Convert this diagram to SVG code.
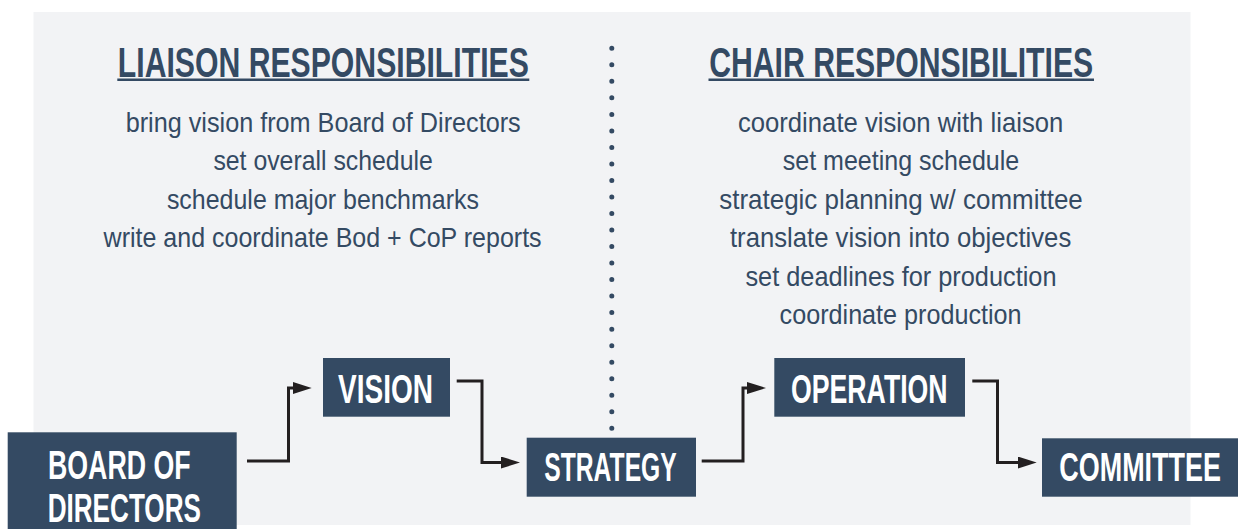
<svg xmlns="http://www.w3.org/2000/svg" width="1242" height="529" viewBox="0 0 1242 529">
  <style>
    .head { font-family: "Liberation Sans", Arial, sans-serif; font-weight: bold; font-size: 43px; fill: #344a63; }
    .body { font-family: "Liberation Sans", Arial, sans-serif; font-size: 28.5px; fill: #344a63; }
    .node rect { fill: #344a63; }
    .node text { font-family: "Liberation Sans", Arial, sans-serif; font-weight: bold; font-size: 40px; fill: #ffffff; }
    .conn { fill: none; stroke: #231f20; stroke-width: 3; stroke-linejoin: miter; }
    .uline { stroke: #344a63; stroke-width: 2.5; }
  </style>
  <defs>
    <marker id="arrow" markerUnits="userSpaceOnUse" markerWidth="19" markerHeight="12" refX="2" refY="6" orient="auto">
      <path d="M0,0 L19,6 L0,12 z" fill="#231f20"/>
    </marker>
  </defs>

  <rect x="0" y="0" width="1242" height="529" fill="#ffffff"/>
  <rect id="panel" x="33.5" y="12" width="1157" height="513" fill="#f2f3f5"/>

  <g id="liaison">
    <text class="head" x="323.3" y="76.7" text-anchor="middle" textLength="411" lengthAdjust="spacingAndGlyphs">LIAISON RESPONSIBILITIES</text>
    <line class="uline" x1="117.3" y1="79.8" x2="529.3" y2="79.8"/>
    <text class="body" x="323.2" y="131.7" text-anchor="middle" textLength="395" lengthAdjust="spacingAndGlyphs">bring vision from Board of Directors</text>
    <text class="body" x="323.1" y="170.2" text-anchor="middle" textLength="219.4" lengthAdjust="spacingAndGlyphs">set overall schedule</text>
    <text class="body" x="322.9" y="208.7" text-anchor="middle" textLength="312" lengthAdjust="spacingAndGlyphs">schedule major benchmarks</text>
    <text class="body" x="322.6" y="247.2" text-anchor="middle" textLength="438" lengthAdjust="spacingAndGlyphs">write and coordinate Bod + CoP reports</text>
  </g>

  <g id="chair">
    <text class="head" x="901.2" y="76.7" text-anchor="middle" textLength="384" lengthAdjust="spacingAndGlyphs">CHAIR RESPONSIBILITIES</text>
    <line class="uline" x1="708.5" y1="79.8" x2="1094" y2="79.8"/>
    <text class="body" x="900.6" y="131.7" text-anchor="middle" textLength="325.4" lengthAdjust="spacingAndGlyphs">coordinate vision with liaison</text>
    <text class="body" x="901" y="170.2" text-anchor="middle" textLength="236.5" lengthAdjust="spacingAndGlyphs">set meeting schedule</text>
    <text class="body" x="901" y="208.7" text-anchor="middle" textLength="363.5" lengthAdjust="spacingAndGlyphs">strategic planning w/ committee</text>
    <text class="body" x="900.6" y="247.2" text-anchor="middle" textLength="341.3" lengthAdjust="spacingAndGlyphs">translate vision into objectives</text>
    <text class="body" x="901" y="285.7" text-anchor="middle" textLength="311.1" lengthAdjust="spacingAndGlyphs">set deadlines for production</text>
    <text class="body" x="900.6" y="324.2" text-anchor="middle" textLength="242" lengthAdjust="spacingAndGlyphs">coordinate production</text>
  </g>

  <line id="divider" x1="611.8" y1="48.3" x2="611.8" y2="428.3" stroke="#344a63" stroke-width="5" stroke-linecap="round" stroke-dasharray="0 16.52"/>

  <g id="connectors">
    <path class="conn" d="M247,461 H288.5 V388 H294.7" marker-end="url(#arrow)"/>
    <path class="conn" d="M456.7,381 H482 V462.5 H503" marker-end="url(#arrow)"/>
    <path class="conn" d="M701.7,461 H743 V388 H749" marker-end="url(#arrow)"/>
    <path class="conn" d="M972.3,381 H997.5 V462.5 H1019.7" marker-end="url(#arrow)"/>
  </g>

  <g id="board" class="node">
    <rect x="7.7" y="432.3" width="229" height="96.7"/>
    <text x="119.3" y="479.3" text-anchor="middle" textLength="142.7" lengthAdjust="spacingAndGlyphs">BOARD OF</text>
    <text x="124.3" y="521.7" text-anchor="middle" textLength="153.3" lengthAdjust="spacingAndGlyphs">DIRECTORS</text>
  </g>

  <g id="vision" class="node">
    <rect x="323" y="358" width="127" height="58.7"/>
    <text x="385.5" y="402.7" text-anchor="middle" textLength="95" lengthAdjust="spacingAndGlyphs">VISION</text>
  </g>

  <g id="strategy" class="node">
    <rect x="526.7" y="437.7" width="169.3" height="59"/>
    <text x="610.5" y="480.7" text-anchor="middle" textLength="132.4" lengthAdjust="spacingAndGlyphs">STRATEGY</text>
  </g>

  <g id="operation" class="node">
    <rect x="774.3" y="358" width="190.7" height="58.7"/>
    <text x="869.3" y="402.7" text-anchor="middle" textLength="156.7" lengthAdjust="spacingAndGlyphs">OPERATION</text>
  </g>

  <g id="committee" class="node">
    <rect x="1042" y="438.3" width="196" height="58.4"/>
    <text x="1140.1" y="481" text-anchor="middle" textLength="161.7" lengthAdjust="spacingAndGlyphs">COMMITTEE</text>
  </g>
</svg>
